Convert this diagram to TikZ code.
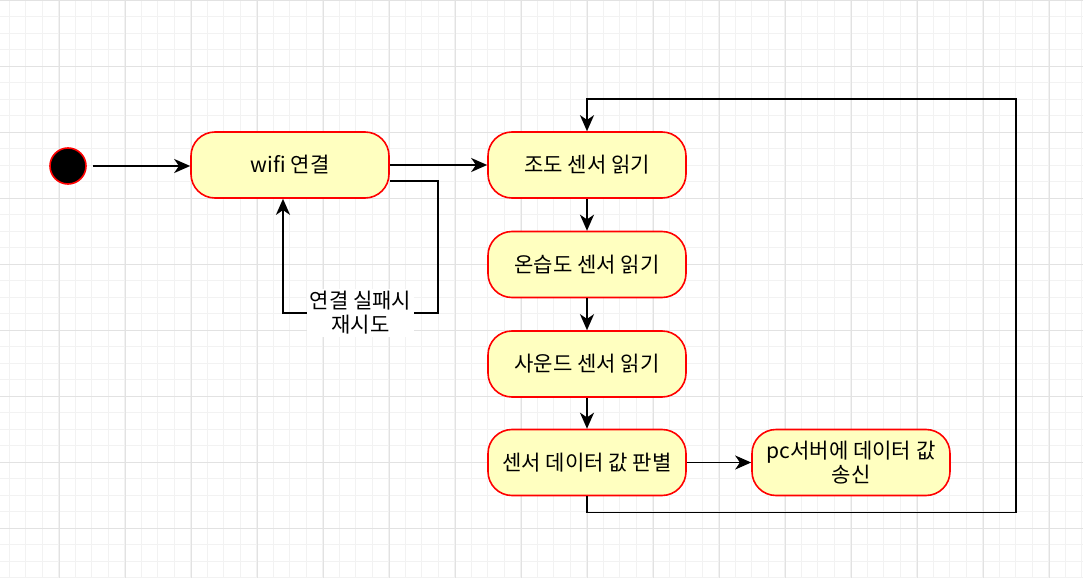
\documentclass[tikz,border=0pt]{standalone}
\usepackage{fontspec}
\setmainfont{Noto Sans CJK KR}
\usetikzlibrary{arrows.meta}
\definecolor{statefill}{HTML}{FFFFC0}
\definecolor{stateline}{HTML}{FF0000}
\definecolor{minorgrid}{HTML}{F2F2F2}
\definecolor{majorgrid}{HTML}{E2E2E2}

\begin{document}
\begin{tikzpicture}[x=0.75pt,y=-0.75pt]
	\tikzstyle{every node}+=[font=\fontsize{15.8pt}{18pt}\selectfont]
	\tikzstyle{state}=[draw=stateline, fill=statefill, line width=1.2pt, rounded corners=18pt, minimum width=148.5pt, minimum height=49.5pt, align=center, inner sep=2pt]
	\tikzstyle{flow}=[draw=black, line width=1.2pt, -{Stealth[length=12pt,width=10.5pt,inset=3.5pt]}]
	\useasboundingbox (0,0) rectangle (1083,578);
	\fill[white] (0,0) rectangle (1083,578);
	% grid
	\foreach \i in {0,...,66} \draw[minorgrid, line width=0.75pt] ({9.3+16.5*(\i-1)},0) -- ++(0,578);
	\foreach \i in {0,...,35} \draw[minorgrid, line width=0.75pt] (0,{16.5*\i}) -- ++(1083,0);
	\foreach \i in {1,...,16} \draw[majorgrid, line width=0.75pt] ({-6.7+66*\i},0) -- ++(0,578);
	\foreach \i in {0,...,8} \draw[majorgrid, line width=0.75pt] (0,{66*\i}) -- ++(1083,0);
	% states
	\node[circle, draw=stateline, fill=black, line width=1.2pt, minimum size=27pt, inner sep=0pt] (init) at (68,166) {};
	\node[state] (wifi) at (290,165) {wifi 연결};
	\node[state] (light) at (587,165) {조도 센서 읽기};
	\node[state] (humid) at (587,264.5) {온습도 센서 읽기};
	\node[state] (sound) at (587,364) {사운드 센서 읽기};
	\node[state] (check) at (587,462.5) {센서 데이터 값 판별};
	\node[state] (send) at (851,462.5) {pc서버에 데이터 값\\송신};
	% transitions
	\draw[flow, shorten <=4.5pt] (init) -- (wifi.west |- init);
	\draw[flow] (wifi) -- (light);
	\draw[flow, line width=1.5pt] ([yshift=-12pt]wifi.east) -| (438,313) -- node[fill=white, align=center, inner sep=2pt] (retry) {연결 실패시\\재시도} (283,313) -- ([xshift=-5.25pt]wifi.south);
	\draw[flow] (light) -- (humid);
	\draw[flow] (humid) -- (sound);
	\draw[flow] (sound) -- (check);
	\draw[flow] (check) -- (send);
	\draw[flow] (check.south) -- ++(0,16) -| (1016,99) -| (light.north);
\end{tikzpicture}
\end{document}
